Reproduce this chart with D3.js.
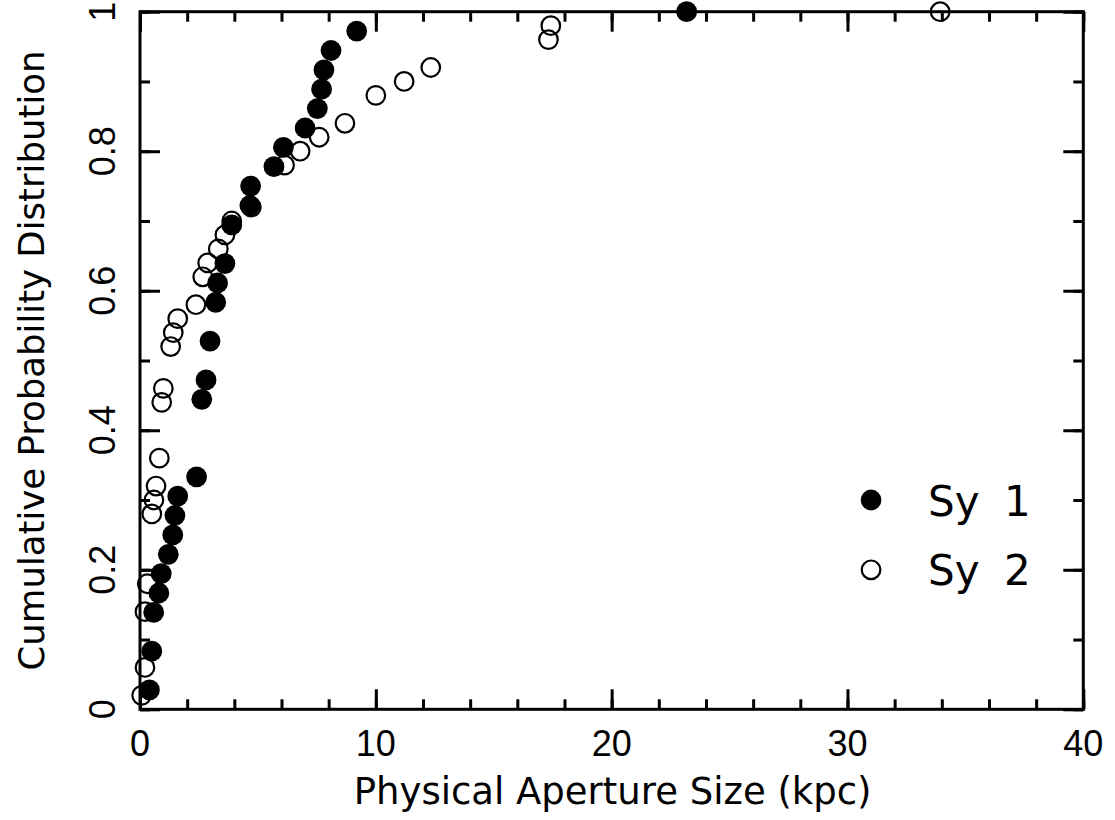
<!DOCTYPE html>
<html>
<head>
<meta charset="utf-8">
<script src="https://cdn.jsdelivr.net/npm/d3@7"></script>
<style>
  html, body { margin: 0; padding: 0; background: #ffffff; }
  svg { display: block; }
</style>
</head>
<body>
<svg id="chart" width="1115" height="820"></svg>
<script>
// ---- Data ----
const sy1X = [0.40, 0.50, 0.58, 0.80, 0.90, 1.20, 1.39, 1.48, 1.60, 2.40,
              2.62, 2.80, 2.97, 3.21, 3.29, 3.60, 3.89, 4.66, 4.69, 5.68,
              6.08, 7.00, 7.52, 7.70, 7.80, 8.10, 9.19, 23.18];
const sy1Y = [0.0278, 0.0833, 0.1389, 0.1667, 0.1944, 0.2222, 0.2500, 0.2778, 0.3056, 0.3333,
              0.4444, 0.4722, 0.5278, 0.5833, 0.6111, 0.6389, 0.6944, 0.7222, 0.7500, 0.7778,
              0.8056, 0.8333, 0.8611, 0.8889, 0.9167, 0.9444, 0.9722, 1.0000];

const sy2X = [0.07, 0.21, 0.21, 0.31, 0.50, 0.59, 0.68, 0.82, 0.92, 0.99,
              1.30, 1.41, 1.60, 2.37, 2.66, 2.87, 3.32, 3.60, 3.89, 4.72,
              6.13, 6.79, 7.60, 8.69, 10.00, 11.20, 12.33, 17.32, 17.42, 33.93];
const sy2Y = [0.02, 0.06, 0.14, 0.18, 0.28, 0.30, 0.32, 0.36, 0.44, 0.46,
              0.52, 0.54, 0.56, 0.58, 0.62, 0.64, 0.66, 0.68, 0.70, 0.72,
              0.78, 0.80, 0.82, 0.84, 0.88, 0.90, 0.92, 0.96, 0.98, 1.00];

const xMajorTicks = [0, 10, 20, 30, 40];
const xTickLabels = ["0", "10", "20", "30", "40"];
const yMajorTicks = [0, 0.2, 0.4, 0.6, 0.8, 1.0];
const yTickLabels = ["0", "0.2", "0.4", "0.6", "0.8", "1"];
const seriesNames = ["Sy", "Sy"];
const seriesNumbers = ["1", "2"];
const xTitle = "Physical Aperture Size (kpc)";
const yTitle = "Cumulative Probability Distribution";

// ---- Layout ----
const L = 140, R = 1083.3, T = 11.7, B = 709.3;
const svg = d3.select("#chart");
const x = d3.scaleLinear().domain([0, 40]).range([L, R]);
const y = d3.scaleLinear().domain([0, 1]).range([B, T]);

const numFont = "'Liberation Sans', Arial, sans-serif";
const txtFont = "'DejaVu Sans', sans-serif";
const lw = 3;

// ---- Axes (ticks inward on all four sides) ----
const xMinor = d3.range(0, 40.001, 2);
const yMinor = d3.range(0, 1.0001, 0.1);

function styleAxis(g) {
  g.select(".domain").remove();
  g.selectAll(".tick text").remove();
  g.selectAll(".tick line").attr("stroke", "#000").attr("stroke-width", lw);
}

svg.append("g").attr("transform", `translate(0,${B})`)
  .call(d3.axisBottom(x).tickValues(xMinor).tickSize(-10)).call(styleAxis);
svg.append("g").attr("transform", `translate(0,${B})`)
  .call(d3.axisBottom(x).tickValues(xMajorTicks).tickSize(-20)).call(styleAxis);
svg.append("g").attr("transform", `translate(0,${T})`)
  .call(d3.axisTop(x).tickValues(xMinor).tickSize(-10)).call(styleAxis);
svg.append("g").attr("transform", `translate(0,${T})`)
  .call(d3.axisTop(x).tickValues(xMajorTicks).tickSize(-20)).call(styleAxis);

svg.append("g").attr("transform", `translate(${L},0)`)
  .call(d3.axisLeft(y).tickValues(yMinor).tickSize(-10)).call(styleAxis);
svg.append("g").attr("transform", `translate(${L},0)`)
  .call(d3.axisLeft(y).tickValues(yMajorTicks).tickSize(-20)).call(styleAxis);
svg.append("g").attr("transform", `translate(${R},0)`)
  .call(d3.axisRight(y).tickValues(yMinor).tickSize(-10)).call(styleAxis);
svg.append("g").attr("transform", `translate(${R},0)`)
  .call(d3.axisRight(y).tickValues(yMajorTicks).tickSize(-20)).call(styleAxis);

// frame
svg.append("rect")
  .attr("x", L).attr("y", T).attr("width", R - L).attr("height", B - T)
  .attr("fill", "none").attr("stroke", "#000").attr("stroke-width", lw);

// tick labels
svg.append("g").selectAll("text").data(xMajorTicks).join("text")
  .attr("x", d => x(d)).attr("y", 756)
  .attr("text-anchor", "middle")
  .attr("font-family", numFont).attr("font-size", 36).attr("fill", "#000")
  .text((d, i) => xTickLabels[i]);

svg.append("g").selectAll("text").data(yMajorTicks).join("text")
  .attr("transform", d => `translate(115,${y(d)}) rotate(-90)`)
  .attr("text-anchor", "middle")
  .attr("font-family", numFont).attr("font-size", 36).attr("fill", "#000")
  .text((d, i) => yTickLabels[i]);

// axis titles
svg.append("text")
  .attr("x", (L + R) / 2 + 1).attr("y", 804)
  .attr("text-anchor", "middle")
  .attr("font-family", txtFont).attr("font-size", 37).attr("fill", "#000")
  .text(xTitle);

svg.append("text")
  .attr("transform", `translate(44,${(T + B) / 2}) rotate(-90)`)
  .attr("text-anchor", "middle")
  .attr("font-family", txtFont).attr("font-size", 35.5).attr("fill", "#000")
  .text(yTitle);

// ---- Points ----
const sy2 = sy2X.map((v, i) => ({x: v, y: sy2Y[i]}));
const sy1 = sy1X.map((v, i) => ({x: v, y: sy1Y[i]}));

svg.append("g").selectAll("circle").data(sy2).join("circle")
  .attr("cx", d => x(d.x)).attr("cy", d => y(d.y)).attr("r", 9.3)
  .attr("fill", "none").attr("stroke", "#000").attr("stroke-width", 2.2);

svg.append("g").selectAll("circle").data(sy1).join("circle")
  .attr("cx", d => x(d.x)).attr("cy", d => y(d.y)).attr("r", 10.4)
  .attr("fill", "#000");

// ---- Legend ----
const legendY = [0.3, 0.2];
const leg = svg.append("g");
leg.append("circle").attr("cx", x(31)).attr("cy", y(legendY[0])).attr("r", 10.4).attr("fill", "#000");
leg.append("circle").attr("cx", x(31)).attr("cy", y(legendY[1])).attr("r", 9.3)
  .attr("fill", "none").attr("stroke", "#000").attr("stroke-width", 2.2);
seriesNames.forEach((nm, i) => {
  const t = leg.append("text")
    .attr("y", y(legendY[i]) + 15.5)
    .attr("font-family", txtFont).attr("font-size", 42).attr("fill", "#000");
  t.append("tspan").attr("x", 928).text(nm);
  t.append("tspan").attr("x", 1004).text(seriesNumbers[i]);
});
</script>
</body>
</html>
